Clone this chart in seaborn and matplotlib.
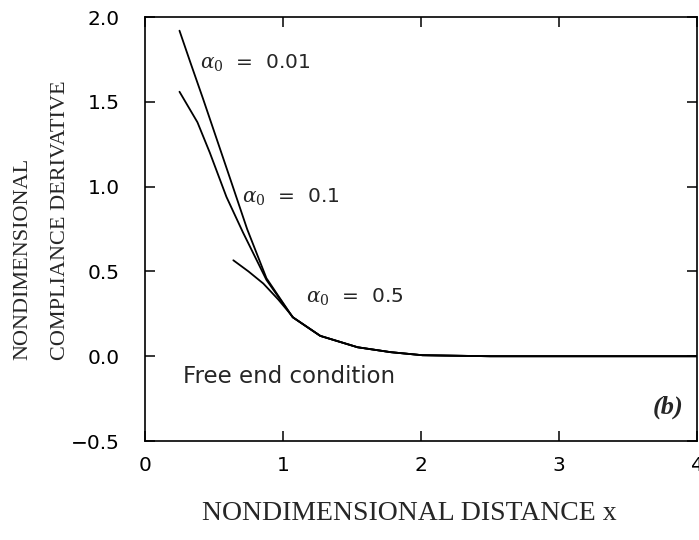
import numpy as np
import pandas as pd
import seaborn as sns
import matplotlib.pyplot as plt

# curves (x = nondimensional distance)
x_001 = [0.25, 0.33, 0.42, 0.52, 0.62, 0.74, 0.88, 1.07, 1.27, 1.54, 1.78, 2.01, 2.5, 3.0, 3.5, 4.0]
y_001 = [1.92, 1.73, 1.52, 1.28, 1.04, 0.75, 0.46, 0.23, 0.12, 0.053, 0.024, 0.006, 0.0, 0.0, 0.0, 0.0]

x_01 = [0.25, 0.38, 0.47, 0.59, 0.71, 0.88, 1.07, 1.27, 1.54, 1.78, 2.01, 2.5, 3.0, 3.5, 4.0]
y_01 = [1.56, 1.38, 1.20, 0.94, 0.73, 0.45, 0.23, 0.12, 0.053, 0.024, 0.006, 0.0, 0.0, 0.0, 0.0]

x_05 = [0.64, 0.75, 0.857, 0.965, 1.075, 1.27, 1.54, 1.78, 2.01, 2.5, 3.0, 3.5, 4.0]
y_05 = [0.566, 0.50, 0.429, 0.335, 0.228, 0.12, 0.053, 0.024, 0.006, 0.0, 0.0, 0.0, 0.0]

x_ticks = [0, 1, 2, 3, 4]
y_ticks = [-0.5, 0.0, 0.5, 1.0, 1.5, 2.0]
y_ticklabels = ["\u22120.5", "0.0", "0.5", "1.0", "1.5", "2.0"]

sns.set_style("ticks")
plt.rcParams['font.family'] = ['DejaVu Sans']
plt.rcParams['mathtext.fontset'] = 'dejavuserif'

fig = plt.figure(figsize=(6.99, 5.4), dpi=100)
ax = fig.add_axes([0.2074, 0.1833, 0.790, 0.785])

for xs, ys in [(x_001, y_001), (x_01, y_01), (x_05, y_05)]:
    df = pd.DataFrame({'x': xs, 'y': ys})
    sns.lineplot(data=df, x='x', y='y', sort=False, color='black', linewidth=1.3, ax=ax)

ax.set_xlim(0, 4)
ax.set_ylim(-0.5, 2.0)
ax.set_xticks(x_ticks)
ax.set_xticklabels([str(t) for t in x_ticks])
ax.set_yticks(y_ticks)
ax.set_yticklabels(y_ticklabels)
ax.tick_params(direction='in', top=True, right=True, length=7, width=1.1,
               labelsize=14.5, color='black', labelcolor='black')
ax.tick_params(axis='x', pad=11)
ax.tick_params(axis='y', pad=18)
for sp in ax.spines.values():
    sp.set_color('black')
    sp.set_linewidth(1.2)

ax.set_xlabel("")
ax.set_ylabel("")
fig.text(0.586, 0.05, "NONDIMENSIONAL DISTANCE x", ha='center', va='center',
         fontsize=20, family='Liberation Serif')
fig.text(0.06, 0.333, "NONDIMENSIONAL\nCOMPLIANCE DERIVATIVE", rotation=90,
         ha='center', va='bottom', multialignment='left', fontsize=16,
         family='Liberation Serif', linespacing=2.3)

ax.text(0.40, 1.73, r"$\alpha_0$  =  0.01", fontsize=14.5, va='center', family='DejaVu Sans')
ax.text(0.70, 0.94, r"$\alpha_0$  =  0.1", fontsize=14.5, va='center', family='DejaVu Sans')
ax.text(1.17, 0.35, r"$\alpha_0$  =  0.5", fontsize=14.5, va='center', family='DejaVu Sans')
ax.text(0.275, -0.12, "Free end condition", fontsize=16.5, va='center', family='DejaVu Sans')
ax.text(3.9, -0.30, "(b)", fontsize=19, va='center', ha='right', family='Liberation Serif',
        style='italic', weight='bold')

fig.savefig("out.png", dpi=100)
